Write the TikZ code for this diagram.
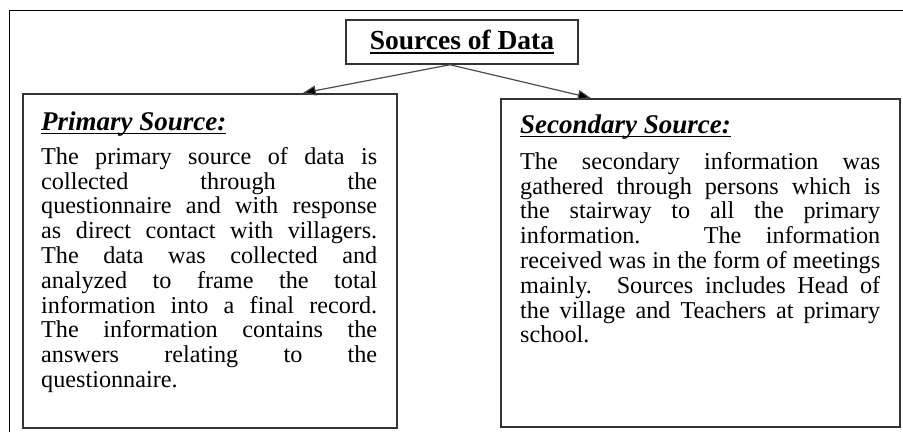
\documentclass[tikz,border=0pt]{standalone}
\usepackage{fontspec}
\setmainfont{Liberation Serif}
\usetikzlibrary{arrows.meta}

% underline drawn below the baseline
\newcommand{\undl}[1]{\setbox0\hbox{#1}\leavevmode\rlap{\vrule height -2.6pt depth 4.3pt width \wd0}\box0}

\tikzset{
  framebox/.style={draw=black!80, line width=1.7pt, inner sep=0pt},
  titletext/.style={font=\fontsize{27.5}{30}\selectfont\bfseries},
  headtext/.style={font=\fontsize{27}{30}\selectfont\bfseries\itshape, inner sep=0pt, anchor=base west},
  bodytext/.style={font=\fontsize{24.2}{24.8}\selectfont, align=justify, inner sep=0pt, anchor=north west},
  srcarrow/.style={draw=black!70, line width=1.2pt, -{Triangle[length=13pt,width=10pt,fill=black]}}
}

\begin{document}
\begin{tikzpicture}[x=1pt,y=-1pt]
			\useasboundingbox (0,0) rectangle (903,432);

			% Page frame
			\draw[black, line width=1pt] (9,432) -- (9,10) -- (903,10);

			% Title
			\node[framebox, titletext, line width=1.5pt, minimum width=232pt, minimum height=44pt] (title) at (462,42) {\undl{Sources of Data}};

			% Source boxes
			\node[framebox, minimum width=374pt, minimum height=334pt, anchor=north west] (primary) at (22,93) {};
			\node[framebox, minimum width=399pt, minimum height=328pt, anchor=north west] (secondary) at (500,98) {};

			% Primary source text
			\node[headtext] (primhead) at (41,130) {\undl{Primary Source:}};
			\node[bodytext, text width=336pt] (primbody) at (41,147) {The primary source of data is\linebreak
			collected through the\linebreak
			questionnaire and with response\linebreak
			as direct contact with villagers.\linebreak
			The data was collected and\linebreak
			analyzed to frame the total\linebreak
			information into a final record.\linebreak
			The information contains the\linebreak
			answers relating to the\linebreak
			questionnaire.};

			% Secondary source text
			\node[headtext] (sechead) at (520,133) {\undl{Secondary Source:}};
			\node[bodytext, text width=360pt] (secbody) at (520,152) {The secondary information was\linebreak
			gathered through persons which is\linebreak
			the stairway to all the primary\linebreak
			information. The information\linebreak
			received was in the form of meetings\linebreak
			mainly. Sources includes Head of\linebreak
			the village and Teachers at primary\linebreak
			school.};

			% Arrows
			\draw[srcarrow] ([xshift=-12pt]title.south) -- ([xshift=93pt]primary.north);
			\draw[srcarrow] ([xshift=-12pt]title.south) -- ([xshift=-109.5pt]secondary.north);
		\end{tikzpicture}
\end{document}
